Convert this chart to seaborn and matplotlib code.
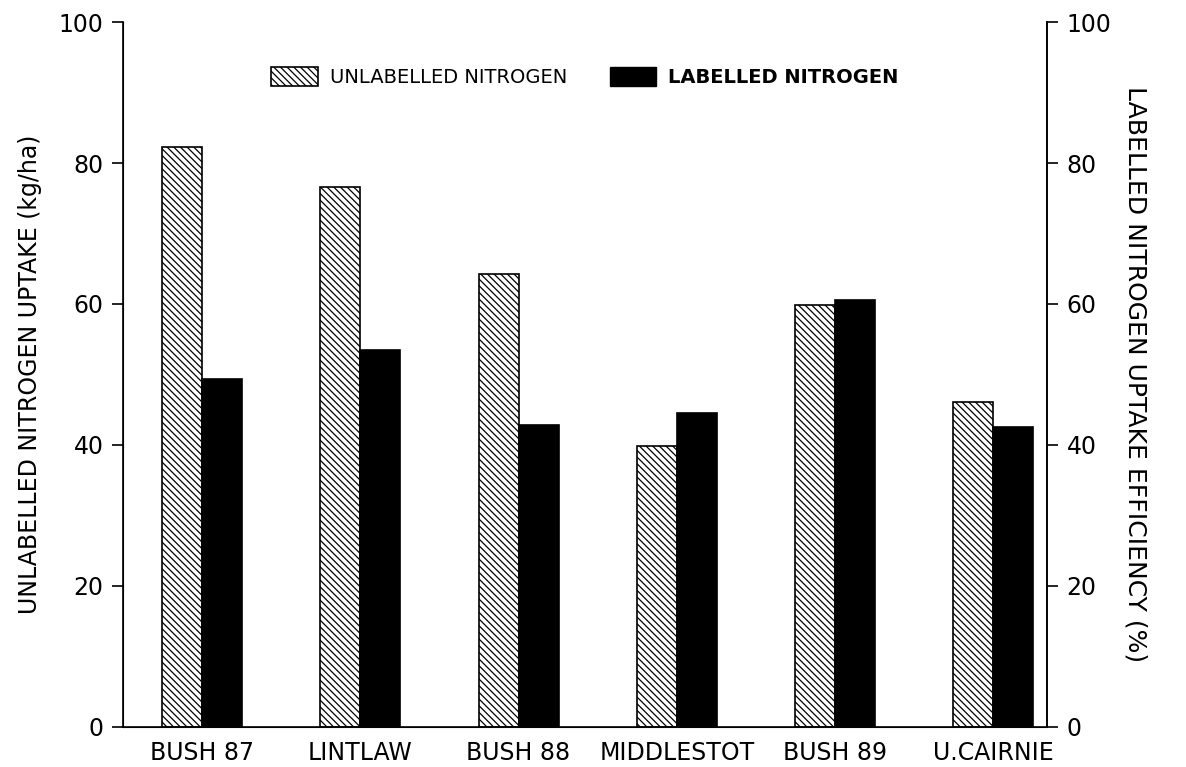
import pandas as pd
import matplotlib.pyplot as plt
import seaborn as sns
from matplotlib.patches import Patch

# Datos
sites = ["BUSH 87", "LINTLAW", "BUSH 88", "MIDDLESTOT", "BUSH 89", "U.CAIRNIE"]
unlabelled_n = [82.2, 76.6, 64.2, 39.9, 59.9, 46.1]   # kg/ha (eje izquierdo)
labelled_n = [49.3, 53.5, 42.8, 44.5, 60.6, 42.5]     # % eficiencia (eje derecho)
y_ticks = [0, 20, 40, 60, 80, 100]
series_names = ["UNLABELLED NITROGEN", "LABELLED NITROGEN"]

HATCH = "\\" * 5


def main():
    sns.set_style("ticks")
    plt.rcParams["font.family"] = ["DejaVu Sans"]
    for key in ["text.color", "axes.labelcolor", "xtick.color", "ytick.color", "axes.edgecolor"]:
        plt.rcParams[key] = "black"
    plt.rcParams["hatch.linewidth"] = 0.9

    df = pd.DataFrame({
        "site": sites * 2,
        "value": unlabelled_n + labelled_n,
        "serie": [series_names[0]] * len(sites) + [series_names[1]] * len(sites),
    })

    fig = plt.figure(figsize=(11.86, 7.67), dpi=100)
    ax = fig.add_axes([0.1037, 0.0522, 0.7791, 0.9191])

    sns.barplot(data=df, x="site", y="value", hue="serie", order=sites,
                hue_order=series_names, palette=["white", "black"],
                width=0.506, edgecolor="black", linewidth=1.2,
                legend=False, ax=ax)

    for bar in ax.containers[0]:
        bar.set_hatch(HATCH)

    ax.set_xlim(-0.5, 5.34)
    ax.set_ylim(0, 100)
    ax.set_yticks(y_ticks)
    ax.set_xlabel("")
    ax.set_ylabel("UNLABELLED NITROGEN UPTAKE (kg/ha)", fontsize=17, labelpad=12)
    ax.tick_params(axis="y", direction="out", length=8, width=1.2, labelsize=17, pad=6)
    ax.tick_params(axis="x", length=0, labelsize=17, pad=10)
    for side in ["left", "bottom", "right"]:
        ax.spines[side].set_linewidth(1.2)
    ax.spines["top"].set_visible(False)

    ax2 = ax.twinx()
    ax2.set_ylim(0, 100)
    ax2.set_yticks(y_ticks)
    ax2.tick_params(axis="y", direction="out", length=8, width=1.2, labelsize=17, pad=6)
    ax2.set_ylabel("LABELLED NITROGEN UPTAKE EFFICIENCY (%)", fontsize=18,
                   rotation=-90, labelpad=26)
    ax2.spines["top"].set_visible(False)
    ax2.spines["right"].set_linewidth(1.2)

    handles = [
        Patch(facecolor="white", edgecolor="black", hatch=HATCH, linewidth=1.2),
        Patch(facecolor="black", edgecolor="black"),
    ]
    leg = ax.legend(handles, series_names, loc="center", bbox_to_anchor=(0.5, 0.922),
                    ncol=2, frameon=False, fontsize=14, handlelength=2.4,
                    handleheight=1.1, handletextpad=0.6, columnspacing=2.2)
    leg.get_texts()[1].set_fontweight("bold")

    fig.savefig("out.png", dpi=100)
    plt.close(fig)


if __name__ == "__main__":
    main()
